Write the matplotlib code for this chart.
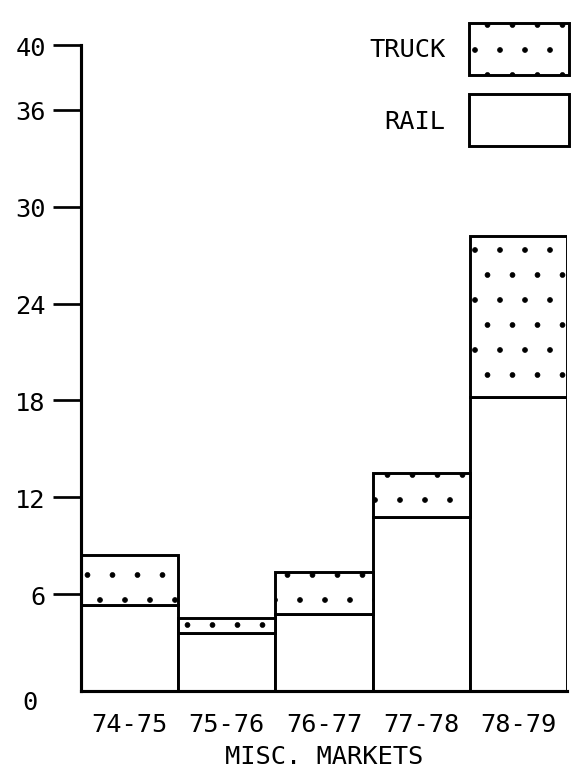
import matplotlib
matplotlib.use('Agg')
import matplotlib.pyplot as plt
import matplotlib.patches as mpatches

# ── Data ──────────────────────────────────────────────────────────────────────
years = ['74-75', '75-76', '76-77', '77-78', '78-79']
rail = [5.3, 3.6, 4.8, 10.8, 18.2]
truck = [3.1, 0.9, 2.6, 2.7, 10.0]
y_ticks = [6, 12, 18, 24, 30, 36, 40]

# ── Style ─────────────────────────────────────────────────────────────────────
plt.rcParams['font.family'] = ['DejaVu Sans Mono', 'DejaVu Sans']
plt.rcParams['font.size'] = 12.2
plt.rcParams['hatch.linewidth'] = 0.3
plt.rcParams['hatch.color'] = 'black'

DPI = 150
fig = plt.figure(figsize=(576 / DPI, 776 / DPI), dpi=DPI)
ax = fig.add_axes([81 / 576, 1 - 692 / 776, (567 - 81) / 576, (692 - 22) / 776])

lw = 1.4
x = range(len(years))
ax.bar(x, rail, width=1.0, color='white', edgecolor='black', linewidth=lw)
ax.bar(x, truck, bottom=rail, width=1.0, color='white', edgecolor='black',
       linewidth=lw, hatch='.')

ax.set_xlim(-0.5, len(years) - 0.5)
ax.set_ylim(0, 41.5)

# ── Axes ──────────────────────────────────────────────────────────────────────
for side in ('top', 'right'):
    ax.spines[side].set_visible(False)
ax.spines['left'].set_linewidth(1.5)
ax.spines['bottom'].set_linewidth(1.5)
ax.spines['left'].set_bounds(0, 40)

ax.set_yticks(y_ticks)
ax.set_yticklabels([str(t) for t in y_ticks])
ax.tick_params(axis='y', direction='out', length=13.4, width=1.3, pad=3.5)
ax.annotate('0', xy=(0, 0), xycoords=('axes fraction', 'data'),
            xytext=(-43, -11), textcoords='offset pixels',
            ha='right', va='center')

ax.set_xticks(list(x))
ax.set_xticklabels(years)
ax.tick_params(axis='x', length=0, pad=10)
ax.set_xlabel('MISC. MARKETS', labelpad=4)

# ── Legend ────────────────────────────────────────────────────────────────────
handles = [
    mpatches.Patch(facecolor='white', edgecolor='black', linewidth=lw,
                   hatch='.', label='TRUCK'),
    mpatches.Patch(facecolor='white', edgecolor='black', linewidth=lw,
                   label='RAIL'),
]
fig.legend(handles=handles, loc='upper right',
           bbox_to_anchor=(569 / 576, 1 - 24 / 776),
           frameon=False, markerfirst=False, borderpad=0, borderaxespad=0,
           handlelength=3.95, handleheight=2.75, handletextpad=0.9,
           labelspacing=0.78)

fig.savefig('out.png', dpi=DPI)
